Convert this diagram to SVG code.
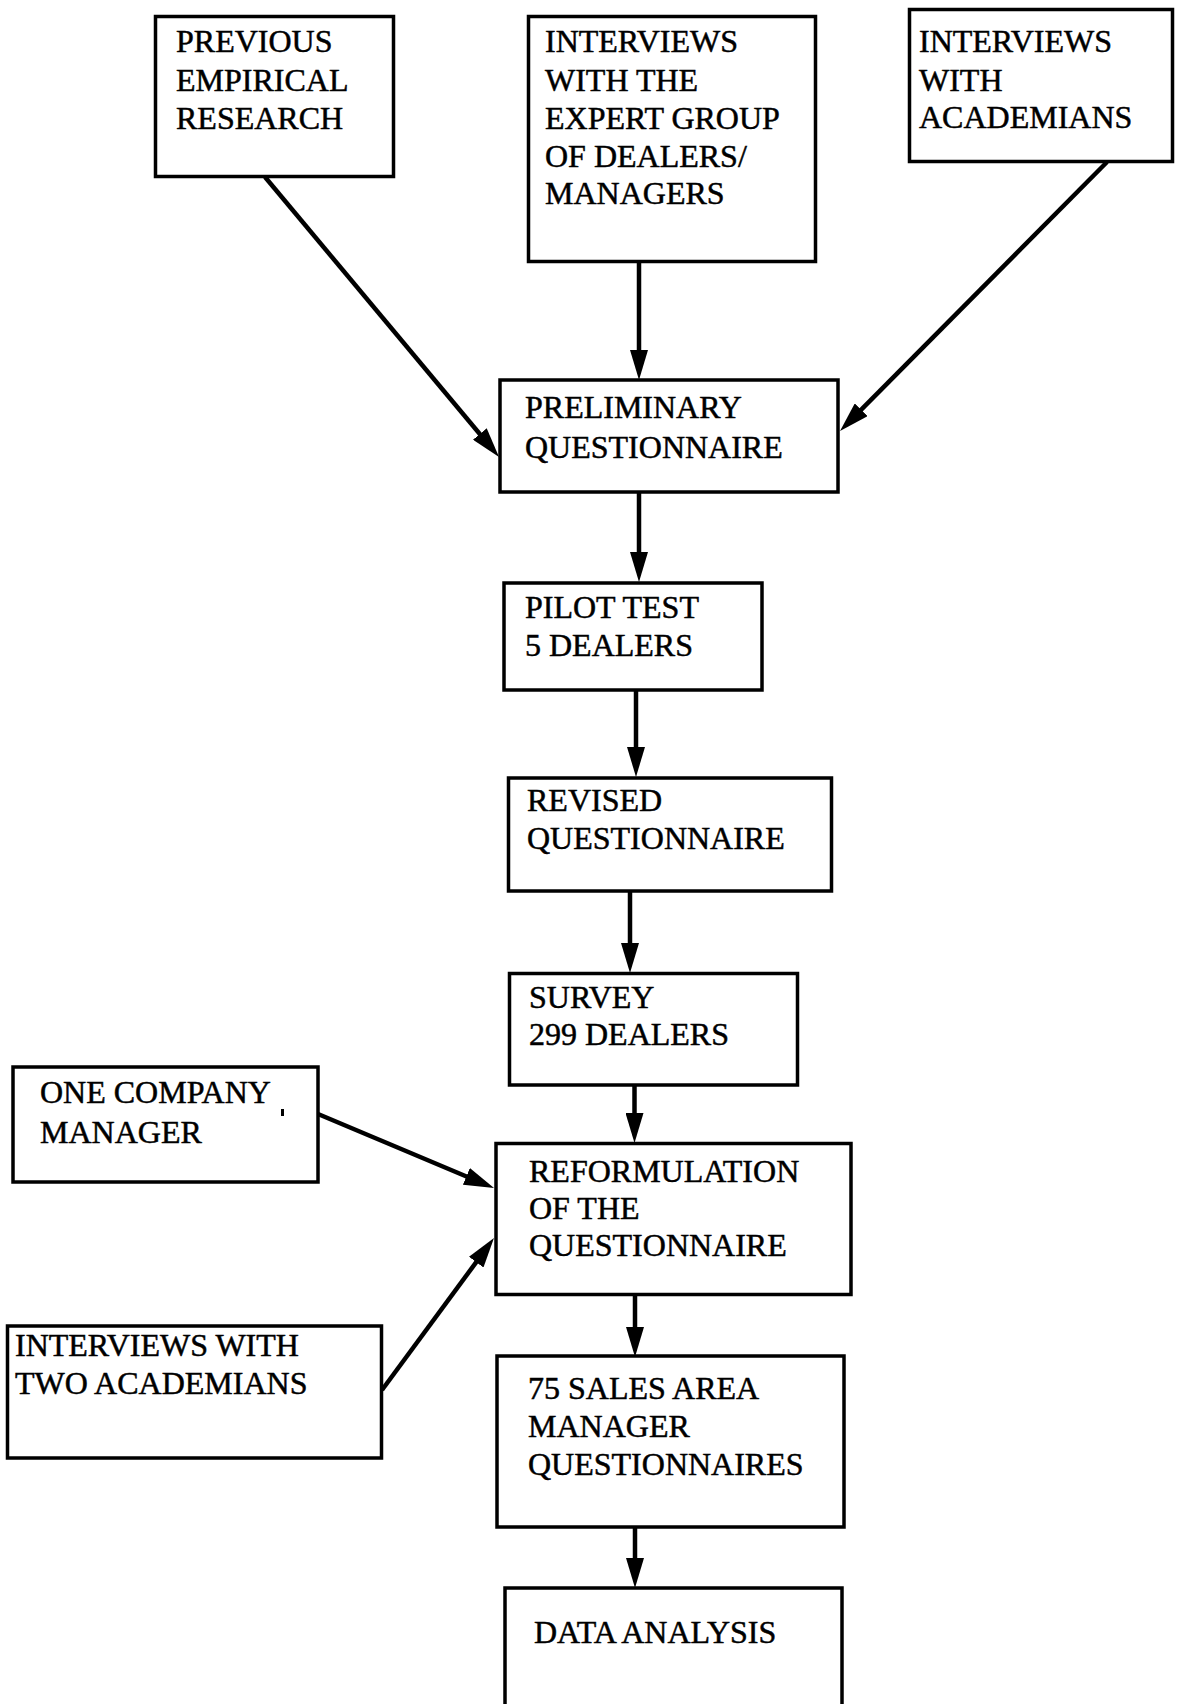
<svg xmlns="http://www.w3.org/2000/svg" width="1181" height="1704" viewBox="0 0 1181 1704">
<style>
.box{fill:#fff;stroke:#000;stroke-width:3.5}
.t{font-family:"Liberation Serif","Times New Roman",serif;font-size:32px;fill:#000;stroke:#000;stroke-width:0.5}
.c{stroke:#000;stroke-width:4.5;fill:none}
</style>
<defs>
<marker id="ah" viewBox="0 0 30 18" refX="15" refY="9" markerWidth="30" markerHeight="18" markerUnits="userSpaceOnUse" orient="auto">
<path d="M0,0 L30,9 L0,18 z" fill="#000"/>
</marker>
</defs>
<rect width="1181" height="1704" fill="#fff"/>
<g id="connectors">
<line class="c" x1="265" y1="177" x2="489.4" y2="445.5" marker-end="url(#ah)"/>
<line class="c" x1="639" y1="262" x2="639" y2="365" marker-end="url(#ah)"/>
<line class="c" x1="1107" y1="162" x2="850.6" y2="420.4" marker-end="url(#ah)"/>
<line class="c" x1="639" y1="492" x2="639" y2="567" marker-end="url(#ah)"/>
<line class="c" x1="636" y1="690" x2="636" y2="762" marker-end="url(#ah)"/>
<line class="c" x1="630" y1="891" x2="630" y2="958" marker-end="url(#ah)"/>
<line class="c" x1="634.5" y1="1085" x2="634.5" y2="1128" marker-end="url(#ah)"/>
<line class="c" x1="318" y1="1114" x2="480.2" y2="1182.2" marker-end="url(#ah)"/>
<line class="c" x1="382" y1="1390" x2="485.1" y2="1250.1" marker-end="url(#ah)"/>
<line class="c" x1="635" y1="1294" x2="635" y2="1342" marker-end="url(#ah)"/>
<line class="c" x1="635" y1="1528" x2="635" y2="1573" marker-end="url(#ah)"/>
</g>
<g id="n-previous">
<rect class="box" x="155.5" y="16.5" width="238" height="160"/>
<text class="t" x="176" y="51.5">PREVIOUS</text>
<text class="t" x="176" y="90.5">EMPIRICAL</text>
<text class="t" x="176" y="129">RESEARCH</text>
</g>
<g id="n-expert">
<rect class="box" x="528.5" y="16.5" width="287" height="245"/>
<text class="t" x="545" y="52">INTERVIEWS</text>
<text class="t" x="545" y="91">WITH THE</text>
<text class="t" x="545" y="129">EXPERT GROUP</text>
<text class="t" x="545" y="167">OF DEALERS/</text>
<text class="t" x="545" y="204">MANAGERS</text>
</g>
<g id="n-academians">
<rect class="box" x="909.5" y="9.5" width="263" height="152"/>
<text class="t" x="919" y="52">INTERVIEWS</text>
<text class="t" x="919" y="91">WITH</text>
<text class="t" x="919" y="128">ACADEMIANS</text>
</g>
<g id="n-preliminary">
<rect class="box" x="500" y="380" width="338" height="112"/>
<text class="t" x="525" y="418">PRELIMINARY</text>
<text class="t" x="525" y="458">QUESTIONNAIRE</text>
</g>
<g id="n-pilot">
<rect class="box" x="504" y="583" width="258" height="107"/>
<text class="t" x="525" y="618">PILOT TEST</text>
<text class="t" x="525" y="656">5 DEALERS</text>
</g>
<g id="n-revised">
<rect class="box" x="508.5" y="778" width="323" height="113"/>
<text class="t" x="527" y="811">REVISED</text>
<text class="t" x="527" y="849">QUESTIONNAIRE</text>
</g>
<g id="n-survey">
<rect class="box" x="509.5" y="973.5" width="288" height="111.5"/>
<text class="t" x="529" y="1008">SURVEY</text>
<text class="t" x="529" y="1045">299 DEALERS</text>
</g>
<g id="n-company">
<rect class="box" x="13" y="1067" width="305" height="115"/>
<text class="t" x="40" y="1103">ONE COMPANY</text>
<rect x="281" y="1109" width="3" height="7" fill="#000"/>
<text class="t" x="40" y="1143">MANAGER</text>
</g>
<g id="n-reformulation">
<rect class="box" x="496" y="1143.5" width="355" height="151"/>
<text class="t" x="529" y="1182">REFORMULATION</text>
<text class="t" x="529" y="1219">OF THE</text>
<text class="t" x="529" y="1256">QUESTIONNAIRE</text>
</g>
<g id="n-two-academians">
<rect class="box" x="7.5" y="1326" width="374" height="132"/>
<text class="t" x="15" y="1356">INTERVIEWS WITH</text>
<text class="t" x="15" y="1394">TWO ACADEMIANS</text>
</g>
<g id="n-sales">
<rect class="box" x="497" y="1356" width="347" height="171"/>
<text class="t" x="528" y="1399">75 SALES AREA</text>
<text class="t" x="528" y="1437">MANAGER</text>
<text class="t" x="528" y="1475">QUESTIONNAIRES</text>
</g>
<g id="n-data">
<rect class="box" x="505" y="1588" width="337" height="130"/>
<text class="t" x="534" y="1643">DATA ANALYSIS</text>
</g>
</svg>
